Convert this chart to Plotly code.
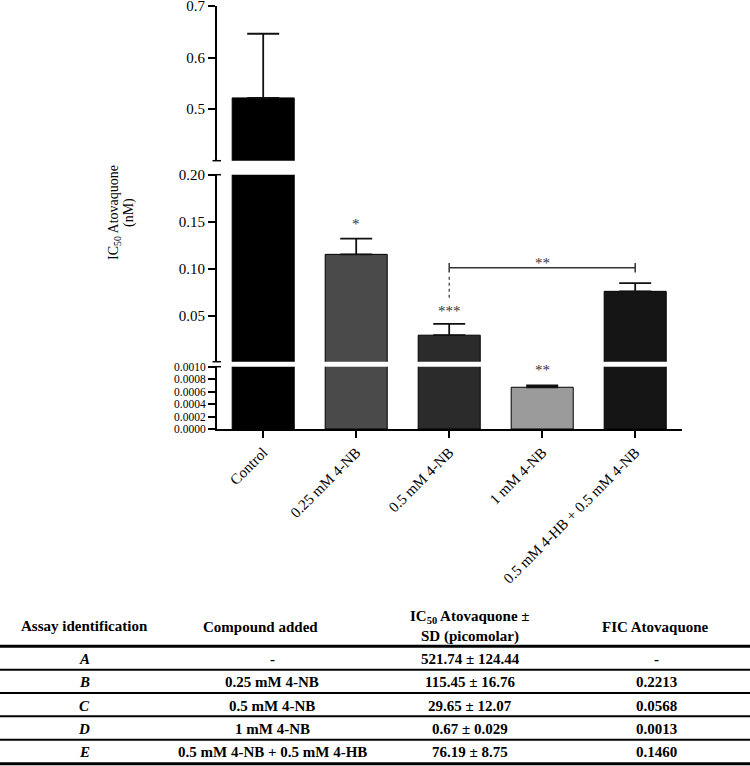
import plotly.graph_objects as go

# ---------------- data ----------------
categories = ["Control", "0.25 mM 4-NB", "0.5 mM 4-NB", "1 mM 4-NB",
              "0.5 mM 4-HB + 0.5 mM 4-NB"]
ic50_nM = [0.52174, 0.11545, 0.02965, 0.00067, 0.07619]
sd_nM = [0.12444, 0.01676, 0.01207, 0.000029, 0.00875]
bar_colors = ["#000000", "#4a4a4a", "#2b2b2b", "#9b9b9b", "#151515"]

bottom_ticks = [0.0, 0.0002, 0.0004, 0.0006, 0.0008, 0.0010]
middle_ticks = [0.05, 0.10, 0.15, 0.20]
top_ticks = [0.5, 0.6, 0.7]

table_headers = ["Assay identification", "Compound added",
                 "IC<sub>50</sub> Atovaquone ±", "SD (picomolar)", "FIC Atovaquone"]
table_ids = ["A", "B", "C", "D", "E"]
table_compounds = ["-", "0.25 mM 4-NB", "0.5 mM 4-NB", "1 mM 4-NB",
                   "0.5 mM 4-NB + 0.5 mM 4-HB"]
table_ic50 = ["521.74 ± 124.44", "115.45 ± 16.76", "29.65 ± 12.07",
              "0.67 ± 0.029", "76.19 ± 8.75"]
table_fic = ["-", "0.2213", "0.0568", "0.0013", "0.1460"]

# ---------------- layout helpers ----------------
W, H = 750, 766
def px(x):
    return x / W
def py(y):
    return 1 - y / H

SERIF = "Liberation Serif, Times New Roman, serif"
fig = go.Figure()

segments = [("y", 0.0, 0.001), ("y2", 0.0015, 0.2), ("y3", 0.4, 0.7)]
for ax, lo, hi in segments:
    vals = [v if v > lo else None for v in ic50_nM]
    errs = [s if v > lo else 0 for v, s in zip(ic50_nM, sd_nM)]
    fig.add_trace(go.Bar(
        x=categories, y=vals, yaxis=ax, xaxis="x",
        width=0.667,
        marker=dict(color=bar_colors, line=dict(color="#000000", width=1)),
        error_y=dict(type="data", array=errs, arrayminus=[0] * len(errs),
                     symmetric=False, color="#111111", thickness=1.8, width=16),
        showlegend=False, hoverinfo="skip",
    ))

def yax(domain, rng, ticks, fmt, size):
    return dict(domain=domain, range=rng, tickvals=ticks, tickformat=fmt,
                showline=True, linecolor="#000000", linewidth=1.5,
                ticks="outside", ticklen=7, tickwidth=1.5, tickcolor="#000000",
                showgrid=False, zeroline=False, anchor="x", automargin=False,
                ticklabeloverflow="allow",
                tickfont=dict(family=SERIF, size=size, color="#000000"))

fig.update_layout(
    template="none",
    width=W, height=H,
    margin=dict(l=0, r=0, t=0, b=0, pad=0, autoexpand=False),
    paper_bgcolor="white", plot_bgcolor="white",
    xaxis=dict(domain=[px(216.7), px(681.7)], anchor="y", range=[-0.5, 4.5],
               showline=True, linecolor="#000000", linewidth=1.5,
               ticks="outside", ticklen=7, tickwidth=1.5, tickcolor="#000000",
               tickangle=-45, showgrid=False, zeroline=False, automargin=False,
               ticklabeloverflow="allow",
               tickfont=dict(family=SERIF, size=15, color="#000000")),
    yaxis=yax([py(429), py(366.7)], [0, 0.0010001], bottom_ticks, ".4f", 11.5),
    yaxis2=yax([py(361.7), py(174.7)], [0.0015, 0.20001], middle_ticks, ".2f", 15),
    yaxis3=yax([py(160.7), py(6)], [0.4, 0.70001], top_ticks, ".1f", 15),
)

shapes = []
# axis break caps
for yb in [160.7, 174.7, 361.7, 366.7]:
    shapes.append(dict(type="line", xref="paper", yref="paper",
                       x0=px(212.5), x1=px(221), y0=py(yb), y1=py(yb),
                       line=dict(color="#000000", width=1.5)))
# significance bracket between 0.5 mM 4-NB and combination
sig_col = "#333333"
shapes.append(dict(type="line", xref="x", yref="y2", x0=2, x1=4, y0=0.1013, y1=0.1013,
                   line=dict(color=sig_col, width=1.5)))
for xc in [2, 4]:
    shapes.append(dict(type="line", xref="x", yref="y2", x0=xc, x1=xc, y0=0.0963, y1=0.1063,
                       line=dict(color=sig_col, width=1.5)))
shapes.append(dict(type="line", xref="x", yref="y2", x0=2, x1=2, y0=0.0917, y1=0.0669,
                   line=dict(color=sig_col, width=1.2, dash="dot")))

# table rules
for yl, lw in [(646.3, 3), (669.7, 2), (693, 2), (716.3, 2), (739.7, 2), (763.7, 3)]:
    shapes.append(dict(type="line", xref="paper", yref="paper", x0=0, x1=1,
                       y0=py(yl), y1=py(yl), line=dict(color="#000000", width=lw)))

def ptext(text, x, y, font, angle=0):
    return dict(text=text, x=px(x), y=py(y), xref="paper", yref="paper",
                showarrow=False, xanchor="center", yanchor="middle",
                textangle=angle, font=font)

annotations = []
title_font = dict(family=SERIF, size=14, color="#000000")
annotations.append(ptext("IC<sub>50</sub> Atovaquone", 114, 213, title_font, -90))
annotations.append(ptext("(nM)", 129, 213, title_font, -90))

# significance stars
sig_font = dict(family=SERIF, size=15, color=sig_col)
def dtext(text, x, y, yref):
    return dict(text=text, x=x, y=y, xref="x", yref=yref, showarrow=False,
                xanchor="center", yanchor="middle", font=sig_font)
annotations += [
    dtext("*", 1, 0.148, "y2"),
    dtext("***", 2, 0.0556, "y2"),
    dtext("**", 3, 0.106, "y2"),
    dtext("**", 3, 0.00094, "y"),
]

# table text
tfont = dict(family=SERIF, size=15, color="#000000")
annotations.append(ptext("<b>" + table_headers[0] + "</b>", 84, 626, tfont))
annotations.append(ptext("<b>" + table_headers[1] + "</b>", 260, 627, tfont))
annotations.append(ptext("<b>" + table_headers[2] + "</b>", 470, 617, tfont))
annotations.append(ptext("<b>" + table_headers[3] + "</b>", 470, 636, tfont))
annotations.append(ptext("<b>" + table_headers[4] + "</b>", 655, 627, tfont))
row_centers = [658.5, 682, 705.5, 728.5, 752]
for i, yc in enumerate(row_centers):
    annotations.append(ptext("<b><i>" + table_ids[i] + "</i></b>", 84, yc, tfont))
    annotations.append(ptext("<b>" + table_compounds[i] + "</b>", 272, yc, tfont))
    annotations.append(ptext("<b>" + table_ic50[i] + "</b>", 470, yc, tfont))
    annotations.append(ptext("<b>" + table_fic[i] + "</b>", 656, yc, tfont))

fig.update_layout(shapes=shapes, annotations=annotations)
fig.write_html("out.html", config={"displayModeBar": False},
               post_script="document.body.style.margin='0';document.body.style.padding='0';")
